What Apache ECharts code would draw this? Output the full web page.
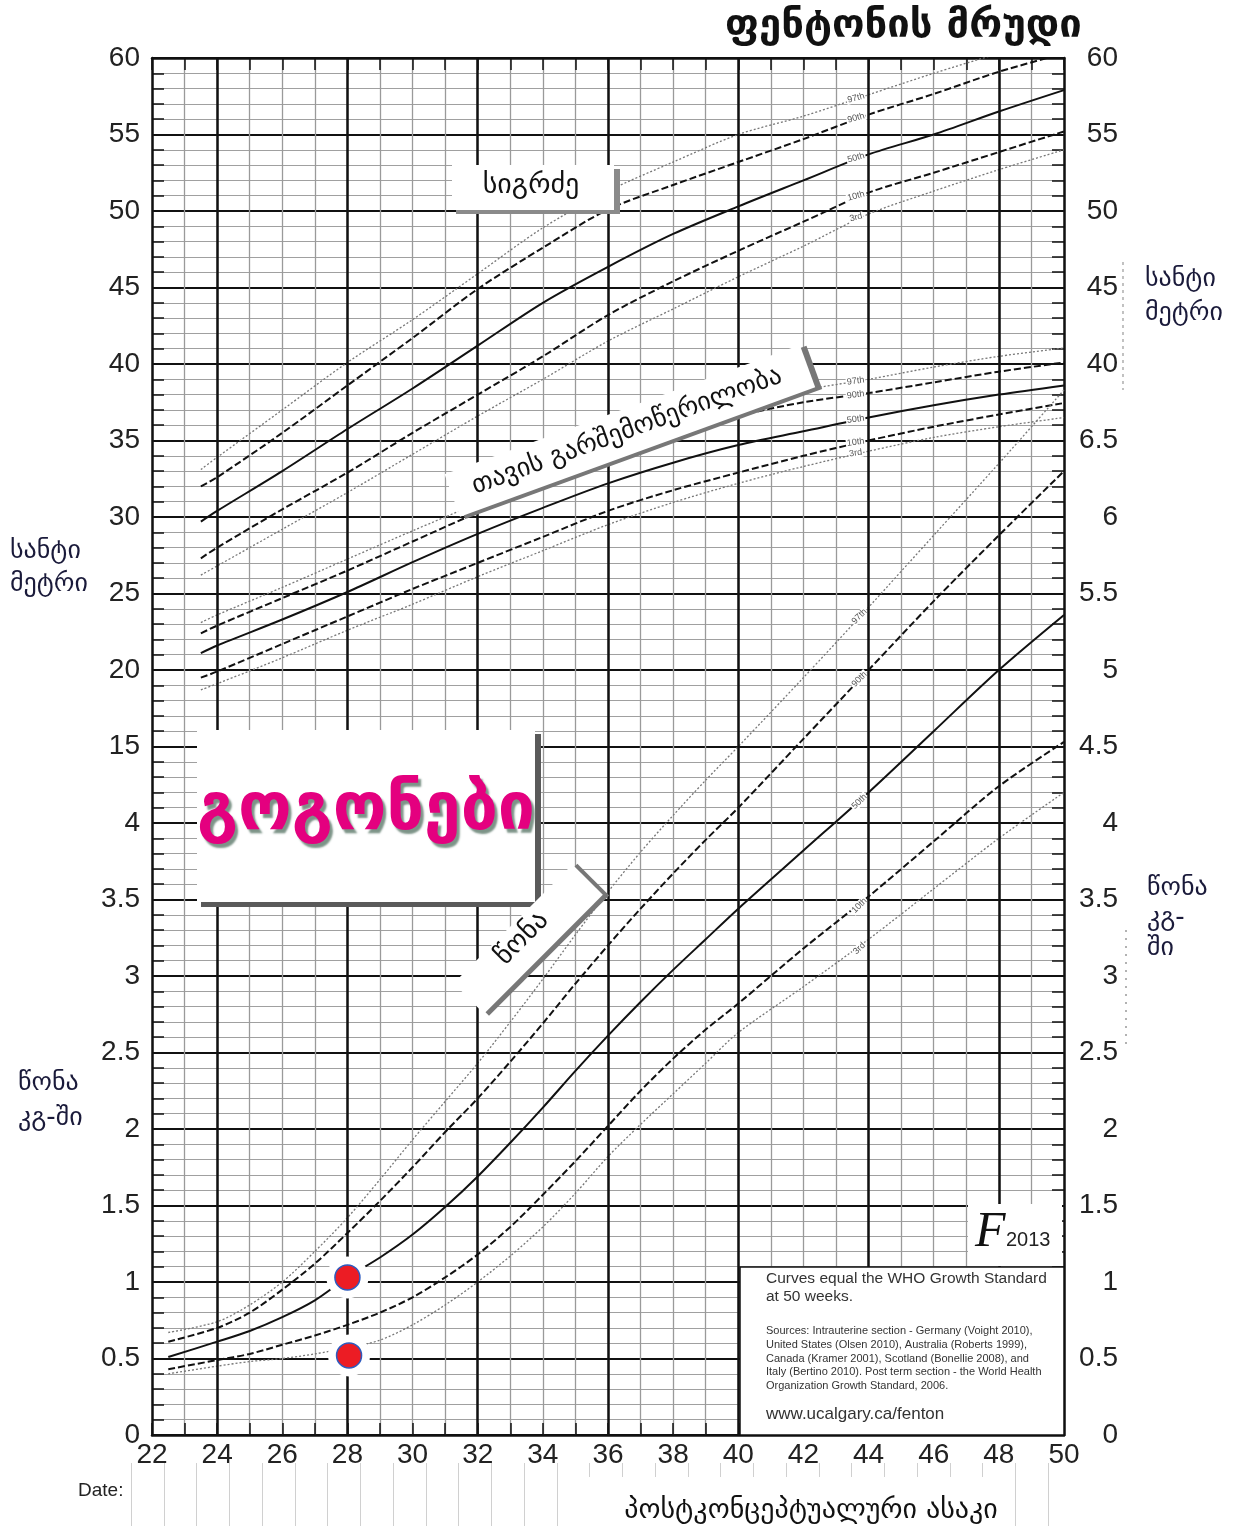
<!DOCTYPE html>
<html><head><meta charset="utf-8">
<script src="https://cdn.jsdelivr.net/npm/echarts@6/dist/echarts.min.js"></script>
<style>html,body{margin:0;padding:0;background:#fff}#c{width:1244px;height:1533px}</style>
</head><body><div id="c"></div>
<script>
// ---------- DATA ----------
const lengthWeeks = [23.5,24,26,28,30,32,34,36,38,40,42,44,46,48,50];
const length97 = [33.1,33.9,37.0,40.1,42.9,45.9,48.9,51.3,53.2,55.0,56.2,57.6,59.0,60.3,61.5];
const length90 = [32.0,32.6,35.5,38.6,41.7,44.9,47.6,50.1,51.7,53.2,54.7,56.3,57.65,59.1,60.3];
const length50 = [29.7,30.4,33.0,35.75,38.4,41.2,44.0,46.35,48.5,50.3,52.0,53.7,55.0,56.5,57.9];
const length10 = [27.3,28.0,30.5,32.9,35.5,38.0,40.5,43.2,45.4,47.4,49.3,51.2,52.5,53.85,55.2];
const length3  = [26.2,26.8,29.2,31.6,34.1,36.6,39.0,41.5,43.6,45.7,47.7,49.8,51.3,52.7,54.0];

const head97 = [23.1,23.6,25.4,27.25,29.1,30.9,32.8,34.6,36.1,37.4,38.3,39.0,39.8,40.5,41.05];
const head90 = [22.4,22.9,24.7,26.5,28.4,30.3,32.15,33.9,35.35,36.6,37.5,38.1,38.8,39.5,40.1];
const head50 = [21.1,21.6,23.3,25.1,27.05,28.9,30.6,32.2,33.55,34.7,35.6,36.5,37.3,38.0,38.6];
const head10 = [19.5,19.9,21.7,23.5,25.3,27.0,28.7,30.4,31.75,32.9,34.0,35.0,35.9,36.7,37.45];
const head3  = [18.7,19.1,20.8,22.6,24.3,26.1,27.8,29.5,30.95,32.2,33.3,34.3,35.2,35.9,36.5];

const weightWeeks = [22.5,24,25,26,27,28,29,30,31,32,33,34,35,36,37,38,39,40,42,44,46,48,50];
const weight97 = [0.67,0.74,0.85,1.0,1.2,1.42,1.67,1.93,2.18,2.43,2.7,2.98,3.27,3.55,3.81,4.05,4.28,4.5,4.95,5.41,5.88,6.35,6.83];
const weight90 = [0.61,0.70,0.8,0.95,1.12,1.32,1.53,1.75,1.98,2.2,2.44,2.69,2.95,3.2,3.44,3.67,3.89,4.1,4.55,5.0,5.45,5.88,6.3];
const weight50 = [0.51,0.61,0.68,0.77,0.88,1.03,1.16,1.31,1.49,1.69,1.91,2.14,2.38,2.61,2.83,3.04,3.24,3.44,3.82,4.2,4.6,5.0,5.36];
const weight10 = [0.43,0.49,0.53,0.59,0.65,0.72,0.8,0.9,1.03,1.18,1.36,1.57,1.79,2.02,2.25,2.46,2.65,2.82,3.18,3.52,3.88,4.24,4.53];
const weight3  = [0.40,0.45,0.48,0.5,0.53,0.57,0.62,0.72,0.85,1.0,1.17,1.36,1.58,1.82,2.03,2.23,2.43,2.63,2.93,3.24,3.57,3.9,4.2];

const dotWeeks = [28, 28.05];
const dotKg = [1.03, 0.52];

const leftTickLabels  = ['0','0.5','1','1.5','2','2.5','3','3.5','4','15','20','25','30','35','40','45','50','55','60'];
const rightTickLabels = ['0','0.5','1','1.5','2','2.5','3','3.5','4','4.5','5','5.5','6','6.5','40','45','50','55','60'];
const boldWeeks = [24,28,32,36,40,44,48];
const pctNames = ['97th','90th','50th','10th','3rd'];

// ---------- helpers ----------
const cm = v => v/5 + 6;   // cm -> chart row units
const kg = v => v*2;       // kg -> chart row units
const GEO = '"DejaVu Sans", sans-serif';
const NUM = '"Liberation Sans", Arial, sans-serif';

function styleFor(p){
  if (p === '50th') return {type:'solid', width:2, color:'#111'};
  if (p === '90th' || p === '10th') return {type:[7,3], width:2, color:'#111'};
  return {type:[2,2], width:1.3, color:'#777'};
}
function mk(weeks, vals, conv, pct, rot, labelWeek){
  return {
    type:'line', xAxisIndex:0, yAxisIndex:0, smooth:0.3, silent:true, animation:false,
    showSymbol:true, showAllSymbol:true, symbol:'circle', symbolSize:1,
    itemStyle:{color:'rgba(0,0,0,0)'}, lineStyle:styleFor(pct), z:3,
    data: weeks.map((w,i)=> w === labelWeek
      ? {value:[w, conv(vals[i])], label:{show:true, formatter:pct, position:'inside', rotate:rot,
          offset:[-13,0], fontSize:9, color:'#555', fontFamily:NUM, backgroundColor:'#fff', padding:[0,1]}}
      : [w, conv(vals[i])])
  };
}

const series = [];
[length97,length90,length50,length10,length3].forEach((a,i)=>series.push(mk(lengthWeeks,a,cm,pctNames[i],15,44)));
[head97,head90,head50,head10,head3].forEach((a,i)=>series.push(mk(lengthWeeks,a,cm,pctNames[i],8,44)));
[weight97,weight90,weight50,weight10,weight3].forEach((a,i)=>series.push(mk(weightWeeks,a,kg,pctNames[i],45,44)));

// bold vertical lines
series.push({type:'line', data:[[22,0]], symbol:'none', lineStyle:{width:0}, silent:true, z:2,
  markLine:{silent:true, symbol:'none', animation:false, label:{show:false},
    lineStyle:{color:'#111', width:2.5, type:'solid'}, data: boldWeeks.map(w=>({xAxis:w}))}});

// red dots with white halo
const dotData = dotWeeks.map((w,i)=>[w, kg(dotKg[i])]);
series.push({type:'scatter', data:dotData, symbolSize:42, itemStyle:{color:'#fff', opacity:1}, z:9, silent:true});
series.push({type:'scatter', data:dotData, symbolSize:25, itemStyle:{color:'#ec1c24', opacity:1, borderColor:'#2d5bbf', borderWidth:1.5}, z:10, silent:true});

const axisLineStyle = {color:'#111', width:2.5};
const option = {
  backgroundColor:'#fff',
  animation:false,
  grid:[
    {left:152, top:58, width:912, height:1377},
    {left:131, top:1463, width:917, height:63}
  ],
  xAxis:[
    {type:'value', gridIndex:0, min:22, max:50, interval:1, position:'bottom',
      axisLine:{show:true, onZero:false, lineStyle:axisLineStyle},
      axisTick:{show:true, inside:true, length:12, lineStyle:{color:'#111', width:1.5}},
      axisLabel:{formatter:v => (v%2===0 ? String(v) : ''), fontSize:28, color:'#222', margin:6, fontFamily:NUM},
      splitLine:{show:true, lineStyle:{color:'#9a9a9a', width:1.3}}},
    {type:'value', gridIndex:0, min:22, max:50, interval:1, position:'top',
      axisLine:{show:true, onZero:false, lineStyle:axisLineStyle},
      axisTick:{show:true, inside:true, length:12, lineStyle:{color:'#111', width:1.5}},
      axisLabel:{show:false}, splitLine:{show:false}},
    {type:'value', gridIndex:1, min:0, max:28, interval:1,
      axisLine:{show:false}, axisTick:{show:false}, axisLabel:{show:false},
      splitLine:{show:true, lineStyle:{color:'#d0d0d0', width:1}}}
  ],
  yAxis:[
    {type:'value', gridIndex:0, min:0, max:18, interval:1, position:'left',
      axisLine:{show:true, onZero:false, lineStyle:axisLineStyle},
      axisTick:{show:false, inside:true},
      minorTick:{show:true, splitNumber:5, length:12, lineStyle:{color:'#111', width:1.5}},
      axisLabel:{formatter:v => leftTickLabels[v], fontSize:28, color:'#222', margin:12, fontFamily:NUM},
      splitLine:{show:true, lineStyle:{color:'#111', width:2}},
      minorSplitLine:{show:true, lineStyle:{color:'#a0a0a0', width:1.2}}},
    {type:'value', gridIndex:0, min:0, max:18, interval:1, position:'right',
      axisLine:{show:true, onZero:false, lineStyle:axisLineStyle},
      axisTick:{show:false, inside:true},
      minorTick:{show:true, splitNumber:5, length:12, lineStyle:{color:'#111', width:1.5}},
      axisLabel:{formatter:v => rightTickLabels[v], fontSize:28, color:'#222', margin:54, align:'right', fontFamily:NUM},
      splitLine:{show:false}},
    {type:'value', gridIndex:1, min:0, max:1, show:false}
  ],
  series: series,
  graphic:[
    // title
    {type:'text', x:725, y:27, z:100, style:{text:'ფენტონის მრუდი', fontSize:40, fontWeight:'bold', fontFamily:GEO, fill:'#111', verticalAlign:'middle'}},
    // length box
    {type:'rect', z:50, shape:{x:456,y:169,width:164,height:45}, style:{fill:'#8a8a8a'}},
    {type:'rect', z:51, shape:{x:452,y:165,width:162,height:45}, style:{fill:'#fff'}},
    {type:'text', z:52, x:531, y:186, style:{text:'სიგრძე', fontSize:28, fontFamily:GEO, fill:'#111', align:'center', verticalAlign:'middle'}},
    // head circumference rotated box
    {type:'group', x:631, y:431, rotation:20*Math.PI/180, z:50, children:[
      {type:'rect', z:50, shape:{x:-186,y:-20,width:380,height:46}, style:{fill:'#777'}},
      {type:'rect', z:51, shape:{x:-190,y:-23,width:378,height:45}, style:{fill:'#fff'}},
      {type:'text', z:52, x:-4, y:-1, style:{text:'თავის გარშემოწერილობა', fontSize:26, fontFamily:GEO, fill:'#111', align:'center', verticalAlign:'middle'}}
    ]},
    // girls box
    {type:'rect', z:50, shape:{x:201,y:734,width:340,height:173}, style:{fill:'#5a5a5a'}},
    {type:'rect', z:51, shape:{x:197,y:730,width:338,height:172}, style:{fill:'#fff'}},
    {type:'text', z:52, x:366, y:812, style:{text:'გოგონები', fontSize:66, fontWeight:'bold', fontFamily:GEO, fill:'#e4007f', align:'center', verticalAlign:'middle',
      textShadowColor:'#7d9488', textShadowOffsetX:3, textShadowOffsetY:4, textShadowBlur:2}},
    // weight rotated box
    {type:'group', x:530, y:938, rotation:45*Math.PI/180, z:50, children:[
      {type:'rect', z:50, shape:{x:-84,y:-19,width:170,height:45}, style:{fill:'#777'}},
      {type:'rect', z:51, shape:{x:-86,y:-22,width:168,height:43}, style:{fill:'#fff'}},
      {type:'text', z:52, x:-6, y:-5, style:{text:'წონა', fontSize:27, fontFamily:GEO, fill:'#111', align:'center', verticalAlign:'middle'}}
    ]},
    // info box
    {type:'rect', z:50, shape:{x:740,y:1267,width:324,height:168}, style:{fill:'#fff', stroke:'#111', lineWidth:1.5}},
    {type:'text', z:52, x:766, y:1270, style:{text:'Curves equal the WHO Growth Standard\nat 50 weeks.', fontSize:15.5, lineHeight:18, fontFamily:NUM, fill:'#333'}},
    {type:'text', z:52, x:766, y:1324, style:{text:'Sources: Intrauterine section - Germany (Voight 2010),\nUnited States (Olsen 2010), Australia (Roberts 1999),\nCanada (Kramer 2001), Scotland (Bonellie 2008), and\nItaly (Bertino 2010). Post term section - the World Health\nOrganization Growth Standard, 2006.', fontSize:11, lineHeight:13.8, fontFamily:NUM, fill:'#333'}},
    {type:'text', z:52, x:766, y:1406, style:{text:'www.ucalgary.ca/fenton', fontSize:17, fontFamily:NUM, fill:'#333'}},
    // F2013 corner
    {type:'rect', z:50, shape:{x:968,y:1204,width:94,height:62}, style:{fill:'#fff'}},
    {type:'text', z:52, x:975, y:1208, style:{text:'F', fontSize:50, fontStyle:'italic', fontFamily:'"Liberation Serif", serif', fill:'#111'}},
    {type:'text', z:52, x:1006, y:1230, style:{text:'2013', fontSize:20, fontFamily:NUM, fill:'#222'}},
    // axis titles
    {type:'text', z:60, x:10, y:535, style:{text:'სანტი\nმეტრი', fontSize:26, lineHeight:33, fontFamily:GEO, fill:'#1a1a3a'}},
    {type:'text', z:60, x:18, y:1066, style:{text:'წონა\nკგ-ში', fontSize:26, lineHeight:35, fontFamily:GEO, fill:'#1a1a3a'}},
    {type:'text', z:60, x:1145, y:262, style:{text:'სანტი\nმეტრი', fontSize:26, lineHeight:34, fontFamily:GEO, fill:'#1a1a3a'}},
    {type:'text', z:60, x:1147, y:873, style:{text:'წონა\nკგ-\nში', fontSize:26, lineHeight:30, fontFamily:GEO, fill:'#1a1a3a'}},
    // faint dotted marks right of axis labels
    {type:'line', z:5, shape:{x1:1123,y1:262,x2:1123,y2:390}, style:{stroke:'#999', lineWidth:1.2, lineDash:[3,4]}},
    {type:'line', z:5, shape:{x1:1126,y1:930,x2:1126,y2:1045}, style:{stroke:'#999', lineWidth:1.5, lineDash:[2,6]}},
    // bottom
    {type:'text', z:60, x:78, y:1491, style:{text:'Date:', fontSize:19, fontFamily:NUM, fill:'#222', verticalAlign:'middle'}},
    {type:'rect', z:50, shape:{x:582,y:1477,width:420,height:56}, style:{fill:'#fff'}},
    {type:'text', z:60, x:811, y:1511, style:{text:'პოსტკონცეპტუალური ასაკი', fontSize:28, fontFamily:GEO, fill:'#111', align:'center', verticalAlign:'middle'}}
  ]
};
const chart = echarts.init(document.getElementById('c'), null, {renderer:'canvas'});
chart.setOption(option);
</script>
</body></html>
